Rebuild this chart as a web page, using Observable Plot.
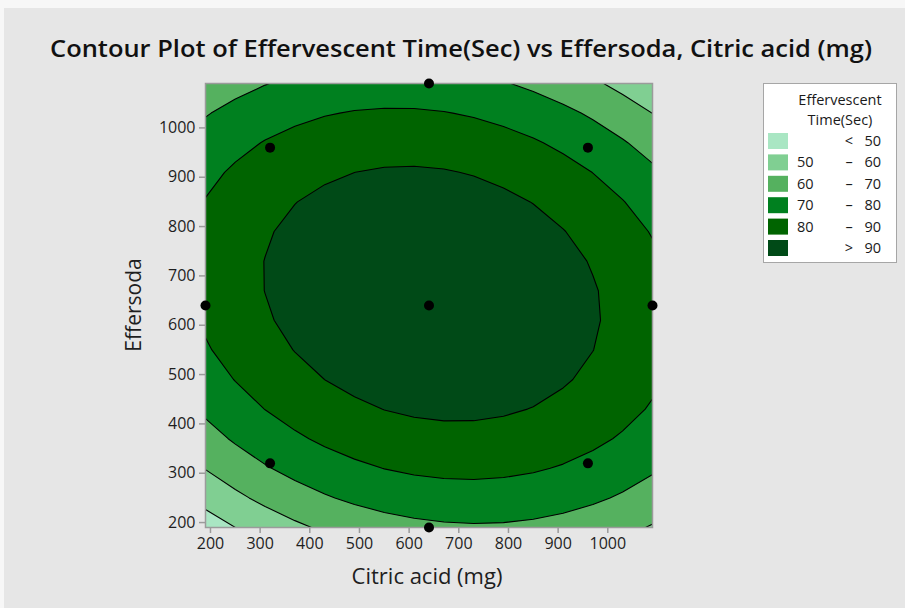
<!DOCTYPE html>
<html>
<head>
<meta charset="utf-8">
<script src="https://cdn.jsdelivr.net/npm/d3@7"></script>
<script src="https://cdn.jsdelivr.net/npm/@observablehq/plot@0.6"></script>
<style>
  html, body { margin: 0; padding: 0; background: #f7f7f7; }
  body { width: 905px; height: 608px; position: relative; overflow: hidden; }
  #panel { position: absolute; left: 4px; top: 8px; right: 0; bottom: 0; background: #e6e6e6; }
  #chart { position: absolute; left: 0; top: 0; }
  #chart g[aria-label="x-axis tick"], #chart g[aria-label="y-axis tick"],
  #chart g[aria-label="x-axis tick"] path, #chart g[aria-label="y-axis tick"] path { stroke: #9b9b9b; stroke-width: 1.5; }
</style>
</head>
<body>
<div id="panel"></div>
<div id="chart"></div>
<script>
// Grid levels of the two factors (mg)
const citric = [190, 250, 310, 370, 430, 490, 550, 610, 670, 730, 790, 850, 910, 970, 1030, 1090];
const effersoda = [190, 250, 310, 370, 430, 490, 550, 610, 670, 730, 790, 850, 910, 970, 1030, 1090];

// Effervescent time (sec) at each grid node: one row per Effersoda level (bottom to top),
// one column per Citric acid level (left to right)
const timeRows = [
  [45.03, 49.99, 54.38, 58.19, 61.44, 64.10, 66.20, 67.72, 68.67, 69.05, 68.85, 68.08, 66.74, 64.83, 62.34, 59.28], // 190
  [53.17, 58.01, 62.29, 65.99, 69.12, 71.68, 73.66, 75.07, 75.91, 76.17, 75.86, 74.98, 73.52, 71.49, 68.89, 65.72], // 250
  [60.32, 65.05, 69.22, 72.80, 75.82, 78.26, 80.13, 81.43, 82.16, 82.31, 81.88, 80.89, 79.32, 77.18, 74.47, 71.18], // 310
  [66.49, 71.11, 75.16, 78.63, 81.54, 83.87, 85.62, 86.81, 87.42, 87.46, 86.92, 85.82, 84.13, 81.88, 79.05, 75.65], // 370
  [71.67, 76.18, 80.11, 83.48, 86.27, 88.49, 90.13, 91.20, 91.70, 91.63, 90.98, 89.76, 87.96, 85.60, 82.66, 79.14], // 430
  [75.87, 80.26, 84.09, 87.34, 90.02, 92.12, 93.65, 94.61, 95.00, 94.81, 94.05, 92.71, 90.81, 88.33, 85.28, 81.65], // 490
  [79.08, 83.37, 87.08, 90.21, 92.78, 94.77, 96.19, 97.04, 97.31, 97.01, 96.13, 94.69, 92.67, 90.08, 86.91, 83.17], // 550
  [81.31, 85.48, 89.08, 92.11, 94.56, 96.44, 97.74, 98.48, 98.64, 98.22, 97.24, 95.68, 93.54, 90.84, 87.56, 83.71], // 610
  [82.56, 86.62, 90.10, 93.01, 95.35, 97.12, 98.31, 98.93, 98.98, 98.45, 97.35, 95.68, 93.44, 90.62, 87.23, 83.26], // 670
  [82.82, 86.76, 90.14, 92.94, 95.16, 96.82, 97.90, 98.40, 98.34, 97.70, 96.49, 94.70, 92.34, 89.41, 85.91, 81.83], // 730
  [82.10, 85.93, 89.19, 91.87, 93.99, 95.53, 96.50, 96.89, 96.71, 95.96, 94.63, 92.74, 90.27, 87.22, 83.60, 79.41], // 790
  [80.39, 84.11, 87.26, 89.83, 91.83, 93.26, 94.11, 94.39, 94.10, 93.24, 91.80, 89.79, 87.20, 84.05, 80.32, 76.01], // 850
  [77.70, 81.30, 84.34, 86.80, 88.69, 89.98, 90.74, 90.91, 90.51, 89.53, 87.98, 85.85, 83.16, 79.89, 76.05, 71.63], // 910
  [74.02, 77.52, 80.44, 82.78, 84.56, 85.76, 86.39, 86.45, 85.93, 84.84, 83.17, 80.94, 78.13, 74.75, 70.79, 66.26], // 970
  [69.36, 72.74, 75.55, 77.78, 79.45, 80.54, 81.05, 80.99, 80.36, 79.16, 77.38, 75.04, 72.11, 68.62, 64.55, 59.91], // 1030
  [63.72, 66.98, 69.68, 71.80, 73.35, 74.33, 74.73, 74.56, 73.82, 72.50, 70.61, 68.15, 65.11, 61.51, 57.32, 52.57]  // 1090
];

// Design points of the experiment
const runCitric    = [320, 960, 640, 190, 640, 1090, 320, 960, 640];
const runEffersoda = [960, 960, 1090, 640, 640, 640, 320, 320, 190];

// Contour levels and their colours (lowest band first)
const thresholds = [50, 60, 70, 80, 90];
const bandColors = ["#a9e6c3", "#80cf92", "#55b15f", "#00801f", "#006400", "#004a17"];

// Legend text
const legendTitle = ["Effervescent", "Time(Sec)"];
const legendLow  = ["", "50", "60", "70", "80", ""];
const legendSign = ["<", "–", "–", "–", "–", ">"];
const legendHigh = ["50", "60", "70", "80", "90", "90"];

const xTicks = [200, 300, 400, 500, 600, 700, 800, 900, 1000];
const yTicks = [200, 300, 400, 500, 600, 700, 800, 900, 1000];

const title = "Contour Plot of Effervescent Time(Sec) vs Effersoda, Citric acid (mg)";
const xLabel = "Citric acid (mg)";
const yLabel = "Effersoda";

// Grid values sit at cell centres, so the raster bounds reach half a step past the outer nodes
const dx = citric[1] - citric[0];
const dy = effersoda[1] - effersoda[0];
const grid = timeRows.flat();
const runs = runCitric.map((c, i) => ({citric: c, effersoda: runEffersoda[i]}));

const plot = Plot.plot({
  width: 905,
  height: 608,
  marginLeft: 205,
  marginRight: 253,
  marginTop: 83,
  marginBottom: 81,
  x: {domain: [citric[0], citric[citric.length - 1]]},
  y: {domain: [effersoda[0], effersoda[effersoda.length - 1]]},
  color: {type: "ordinal", domain: thresholds, range: bandColors.slice(1)},
  style: {fontFamily: "'Open Sans', sans-serif", background: "transparent", color: "#1e1e1e", overflow: "visible"},
  marks: [
    Plot.frame({fill: bandColors[0]}),
    Plot.contour(grid, {
      width: citric.length,
      height: effersoda.length,
      x1: citric[0] - dx / 2,
      x2: citric[citric.length - 1] + dx / 2,
      y1: effersoda[0] - dy / 2,
      y2: effersoda[effersoda.length - 1] + dy / 2,
      fill: Plot.identity,
      thresholds,
      stroke: "black",
      strokeWidth: 1.1,
      clip: true
    }),
    Plot.frame({stroke: "#9b9b9b", strokeWidth: 1.5}),
    Plot.axisX(xTicks, {tickSize: 6, tickPadding: 4, fontSize: 16, tickFormat: "d", label: null}),
    Plot.axisY(yTicks, {tickSize: 6, tickPadding: 4, fontSize: 16, tickFormat: "d", label: null}),
    Plot.dot(runs, {x: "citric", y: "effersoda", r: 5, fill: "black", clip: false})
  ]
});

document.getElementById("chart").appendChild(plot);

const svg = d3.select(plot);
const font = "'Open Sans', sans-serif";

svg.append("text")
  .attr("x", 461).attr("y", 57)
  .attr("text-anchor", "middle")
  .attr("font-family", font).attr("font-size", 24).attr("font-weight", 600)
  .attr("fill", "#111")
  .attr("textLength", 822).attr("lengthAdjust", "spacingAndGlyphs")
  .text(title);

svg.append("text")
  .attr("x", 427).attr("y", 584)
  .attr("text-anchor", "middle")
  .attr("font-family", font).attr("font-size", 22)
  .attr("fill", "#1e1e1e")
  .text(xLabel);

svg.append("text")
  .attr("transform", "translate(141,305) rotate(-90)")
  .attr("text-anchor", "middle")
  .attr("font-family", font).attr("font-size", 21)
  .attr("fill", "#1e1e1e")
  .text(yLabel);

// Legend box
const lg = svg.append("g").attr("font-family", font).attr("font-size", 14.5).attr("fill", "#1a1a1a");
lg.append("rect")
  .attr("x", 763.5).attr("y", 83.5).attr("width", 133).attr("height", 179)
  .attr("fill", "white").attr("stroke", "#a6a6a6");
legendTitle.forEach((t, i) => {
  lg.append("text").attr("x", 840).attr("y", 105 + i * 20).attr("text-anchor", "middle").text(t);
});
bandColors.forEach((c, i) => {
  const top = 133 + i * 21.4;
  lg.append("rect").attr("x", 768).attr("y", top).attr("width", 20).attr("height", 16).attr("fill", c);
  const base = top + 13;
  if (legendLow[i]) lg.append("text").attr("x", 797).attr("y", base).attr("text-anchor", "start").text(legendLow[i]);
  lg.append("text").attr("x", 849).attr("y", base).attr("text-anchor", "middle").text(legendSign[i]);
  lg.append("text").attr("x", 881).attr("y", base).attr("text-anchor", "end").text(legendHigh[i]);
});
</script>
</body>
</html>
